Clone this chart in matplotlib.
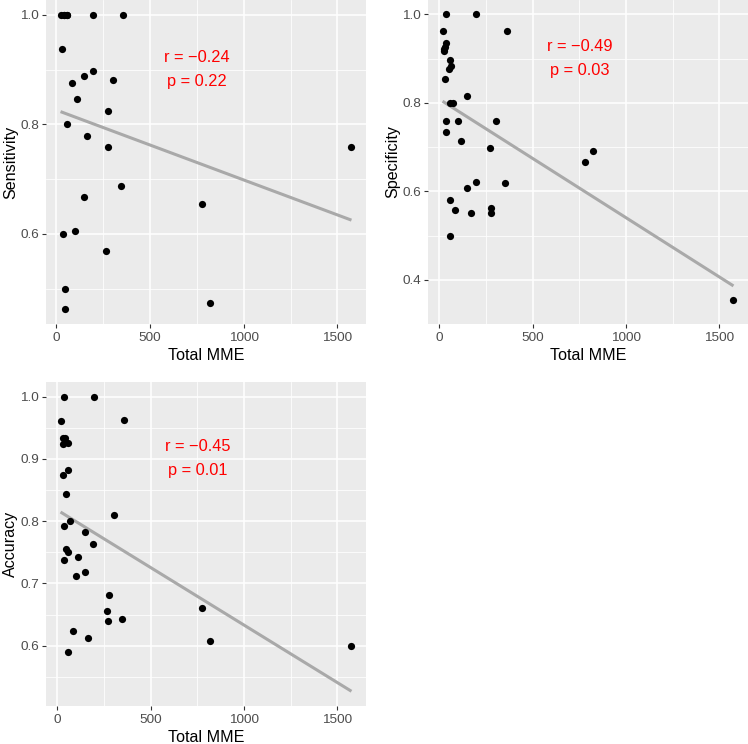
import numpy as np
import matplotlib
matplotlib.use('Agg')
import matplotlib.pyplot as plt

plt.rcParams['font.family'] = ['Liberation Sans', 'DejaVu Sans']

# Sensitivity vs Total MME (some points at 1.0 overlap)
sens_mme = [23, 41, 41, 60, 60, 196, 358, 30, 84, 146, 194, 301, 112, 278, 57,
            165, 274, 1575, 347, 148, 776, 36, 100, 267, 48, 48, 818]
sens_val = [1.0, 1.0, 1.0, 1.0, 1.0, 1.0, 1.0, 0.9376, 0.875, 0.889, 0.898,
            0.880, 0.847, 0.825, 0.800, 0.778, 0.758, 0.758, 0.687, 0.667, 0.655,
            0.600, 0.605, 0.568, 0.500, 0.4624, 0.4739]

# Specificity vs Total MME
spec_mme = [36, 199, 18, 362, 36, 30, 27, 28, 59, 64, 50, 30, 150, 72, 59, 36,
            102, 304, 36, 115, 270, 780, 825, 149, 197, 351, 59, 84, 168, 276,
            279, 59, 1575]
spec_val = [1.0, 1.0, 0.9615, 0.9615, 0.934, 0.927, 0.921, 0.917, 0.897, 0.883,
            0.876, 0.854, 0.815, 0.800, 0.799, 0.758, 0.759, 0.758, 0.733, 0.714,
            0.698, 0.667, 0.692, 0.607, 0.621, 0.619, 0.580, 0.557, 0.551, 0.551,
            0.563, 0.4996, 0.355]

# Accuracy vs Total MME
acc_mme = [36, 196, 18, 359, 30, 41, 30, 59, 30, 60, 48, 302, 69, 36, 148, 194,
           48, 60, 36, 114, 100, 148, 278, 267, 274, 347, 84, 165, 57, 776, 818,
           1575]
acc_val = [1.0, 1.0, 0.961, 0.963, 0.933, 0.933, 0.924, 0.925, 0.875, 0.883,
           0.844, 0.810, 0.800, 0.793, 0.783, 0.763, 0.755, 0.751, 0.738, 0.743,
           0.712, 0.718, 0.681, 0.655, 0.639, 0.643, 0.624, 0.613, 0.590, 0.661,
           0.607, 0.599]

panels = [
    ('Sensitivity', sens_mme, sens_val, 'r = \u22120.24\np = 0.22', [0.6, 0.8, 1.0]),
    ('Specificity', spec_mme, spec_val, 'r = \u22120.49\np = 0.03', [0.4, 0.6, 0.8, 1.0]),
    ('Accuracy', acc_mme, acc_val, 'r = \u22120.45\np = 0.01', [0.6, 0.7, 0.8, 0.9, 1.0]),
]

W, H = 748, 744
# panel rectangles in pixels: left, top, width, height
rects = [(46, 0, 320, 324), (428, 0, 320, 324), (46, 382, 320, 324)]

fig = plt.figure(figsize=(W / 100, H / 100), dpi=100)

for (ylab, xs, ys, label, yticks), (l, t, w, h) in zip(panels, rects):
    ax = fig.add_axes([l / W, (H - t - h) / H, w / W, h / H])
    ax.set_facecolor('#EBEBEB')
    xs = np.array(xs, dtype=float)
    ys = np.array(ys, dtype=float)

    # linear fit
    b, a = np.polyfit(xs, ys, 1)
    xl = np.array([xs.min(), xs.max()])
    ax.plot(xl, a + b * xl, color='#A9A9A9', lw=2.2, zorder=2, solid_capstyle='butt')
    ax.scatter(xs, ys, s=27, color='black', zorder=3, linewidths=0)

    ax.text(750, 0.9, label, color='red', fontsize=11.8, ha='center', va='center',
            linespacing=1.75)

    # ggplot style expansion
    fit_y = a + b * xl
    ymin = min(ys.min(), fit_y.min())
    ymax = max(ys.max(), fit_y.max())
    xr = xs.max() - xs.min()
    yr = ymax - ymin
    ax.set_xlim(xs.min() - 0.05 * xr, xs.max() + 0.05 * xr)
    ax.set_ylim(ymin - 0.05 * yr, ymax + 0.05 * yr)

    ax.set_xticks([0, 500, 1000, 1500])
    ax.set_xticks([250, 750, 1250], minor=True)
    ax.set_yticks(yticks)
    step = yticks[1] - yticks[0]
    minors = [yticks[0] - step / 2] + [v + step / 2 for v in yticks[:-1]]
    ax.set_yticks(minors, minor=True)
    ax.set_yticklabels([f'{v:.1f}' for v in yticks])

    ax.grid(which='major', color='white', lw=1.1)
    ax.grid(which='minor', color='white', lw=0.55)
    ax.set_axisbelow(True)
    for s in ax.spines.values():
        s.set_visible(False)
    ax.tick_params(which='major', length=3, width=0.8, color='#333333',
                   labelsize=9.7, labelcolor='#4D4D4D', pad=3)
    ax.tick_params(axis='y', which='major', pad=2)
    ax.tick_params(which='minor', length=0)
    ax.set_xlabel('Total MME', fontsize=11.6, labelpad=3)
    ax.set_ylabel(ylab, fontsize=11.6, labelpad=1.5)

fig.savefig('out.png', dpi=100)
